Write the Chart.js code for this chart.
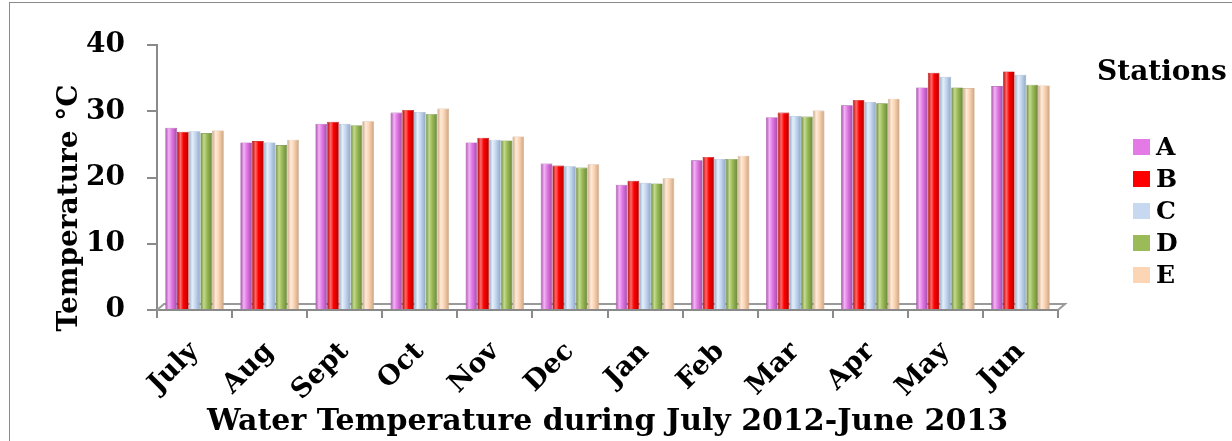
<!DOCTYPE html>
<html>
<head>
<meta charset="utf-8">
<script src="https://cdn.jsdelivr.net/npm/chart.js@4/dist/chart.umd.min.js"></script>
<style>
  html, body { margin: 0; padding: 0; background: #fff; overflow: hidden; }
  #frame { position: absolute; left: 9px; top: 2px; width: 1300px; height: 500px; border: 1.5px solid #8a8a8a; box-sizing: border-box; }
  #wrap { position: absolute; left: 0; top: 0; width: 1232px; height: 441px; }
</style>
</head>
<body>
<div id="frame"></div>
<div id="wrap"><canvas id="c" width="1232" height="441"></canvas></div>
<script>
const months = ['July','Aug','Sept','Oct','Nov','Dec','Jan','Feb','Mar','Apr','May','Jun'];
const stationA = [27.5,25.3,28.1,29.8,25.3,22.1,18.9,22.6,29.1,30.9,33.6,33.8];
const stationB = [26.9,25.5,28.4,30.2,26.0,21.8,19.5,23.1,29.8,31.7,35.8,36.0];
const stationC = [27.0,25.3,28.1,29.9,25.7,21.7,19.2,22.8,29.3,31.4,35.2,35.5];
const stationD = [26.7,24.9,27.9,29.6,25.6,21.5,19.1,22.8,29.2,31.2,33.6,34.0];
const stationE = [27.1,25.7,28.5,30.4,26.2,22.0,19.9,23.3,30.1,31.9,33.5,33.9];
const stationNames = ['A','B','C','D','E'];
const yTicks = [0,10,20,30,40];
const yTitle = 'Temperature °C';
const xTitle = 'Water Temperature during July 2012-June 2013';
const legendTitle = 'Stations';

const colors = ['#E37AE6','#FF0000','#C6D9F1','#9BBB59','#FCD5B5'];
const darks  = ['#A24AA6','#B00000','#8EA6C4','#6A8738','#C9A482'];
const lights = ['#F2B4F4','#FF6A6A','#E6EFFA','#C3DA8E','#FFEBDA'];

const CAT_PCT = 0.78, BAR_PCT = 1.0;
const FONT = "'DejaVu Serif', 'Liberation Serif', serif";

function shade(ctx) {
  const chart = ctx.chart;
  const di = ctx.datasetIndex;
  if (ctx.type !== 'data' || !chart.scales || !chart.scales.x || !chart.chartArea) return colors[di];
  const xs = chart.scales.x;
  const cat = (xs.right - xs.left) / months.length;
  const group = cat * CAT_PCT;
  const bw = group / stationNames.length;
  const cx = xs.getPixelForValue(ctx.dataIndex);
  const left = cx - group / 2 + di * bw;
  const g = chart.ctx.createLinearGradient(left, 0, left + bw, 0);
  g.addColorStop(0, darks[di]);
  g.addColorStop(0.3, lights[di]);
  g.addColorStop(0.55, colors[di]);
  g.addColorStop(1, darks[di]);
  return g;
}

const series = [stationA, stationB, stationC, stationD, stationE];
const datasets = series.map((vals, i) => ({
  label: stationNames[i],
  data: vals,
  backgroundColor: shade,
  borderColor: darks[i],
  borderWidth: 0.6,
  categoryPercentage: CAT_PCT,
  barPercentage: BAR_PCT
}));

const floor = {
  id: 'floor',
  beforeDatasetsDraw(chart) {
    const {left, right, bottom} = chart.chartArea;
    const c = chart.ctx;
    c.save();
    c.strokeStyle = '#9a9a9a';
    c.lineWidth = 2;
    c.beginPath();
    c.moveTo(left, bottom);
    c.lineTo(left + 7, bottom - 6);
    c.lineTo(right + 7, bottom - 6);
    c.lineTo(right, bottom);
    c.stroke();
    c.restore();
  }
};

const customText = {
  id: 'customText',
  afterDraw(chart) {
    const c = chart.ctx;
    c.save();
    c.fillStyle = '#000';
    c.textBaseline = 'middle';
    c.textAlign = 'left';
    c.font = "bold 28px " + FONT;
    c.fillText(legendTitle, 1097, 73);
    c.font = "bold 25px " + FONT;
    chart.data.datasets.forEach((ds, i) => {
      const y = 147 + i * 32;
      c.fillStyle = colors[i];
      c.fillRect(1133, y - 8, 17, 16);
      c.fillStyle = '#000';
      c.fillText(ds.label, 1156, y + 1);
    });
    // y-axis title
    c.translate(70, 208);
    c.rotate(-Math.PI / 2);
    c.textAlign = 'center';
    c.font = "bold 28px " + FONT;
    c.fillText(yTitle, 0, 0);
    c.restore();
  }
};

new Chart(document.getElementById('c'), {
  type: 'bar',
  data: { labels: months, datasets },
  options: {
    responsive: false,
    animation: false,
    events: [],
    layout: { padding: { left: 10, top: 45, right: 174, bottom: 0 } },
    plugins: { legend: { display: false }, tooltip: { enabled: false } },
    scales: {
      y: {
        min: 0, max: 40,
        afterFit(s) { s.width = 147; },
        afterBuildTicks(s) { s.ticks = yTicks.map(v => ({ value: v })); },
        border: { display: true, color: '#8a8a8a', width: 2 },
        grid: { drawOnChartArea: false, color: '#8a8a8a', lineWidth: 2, tickLength: 10 },
        ticks: { color: '#000', padding: 22, font: { family: FONT, size: 28, weight: 'bold' } }
      },
      x: {
        afterFit(s) { s.height = 131; },
        border: { display: true, color: '#8a8a8a', width: 2 },
        grid: { drawOnChartArea: false, color: '#8a8a8a', lineWidth: 2, tickLength: 8, offset: true },
        ticks: { color: '#000', padding: 18, maxRotation: 45, minRotation: 45, autoSkip: false,
                 font: { family: FONT, size: 27, weight: 'bold' } },
        title: { display: true, text: xTitle, color: '#000',
                 padding: { top: 0, bottom: 1 }, font: { family: FONT, size: 30, weight: 'bold' } }
      }
    }
  },
  plugins: [floor, customText]
});
</script>
</body>
</html>
